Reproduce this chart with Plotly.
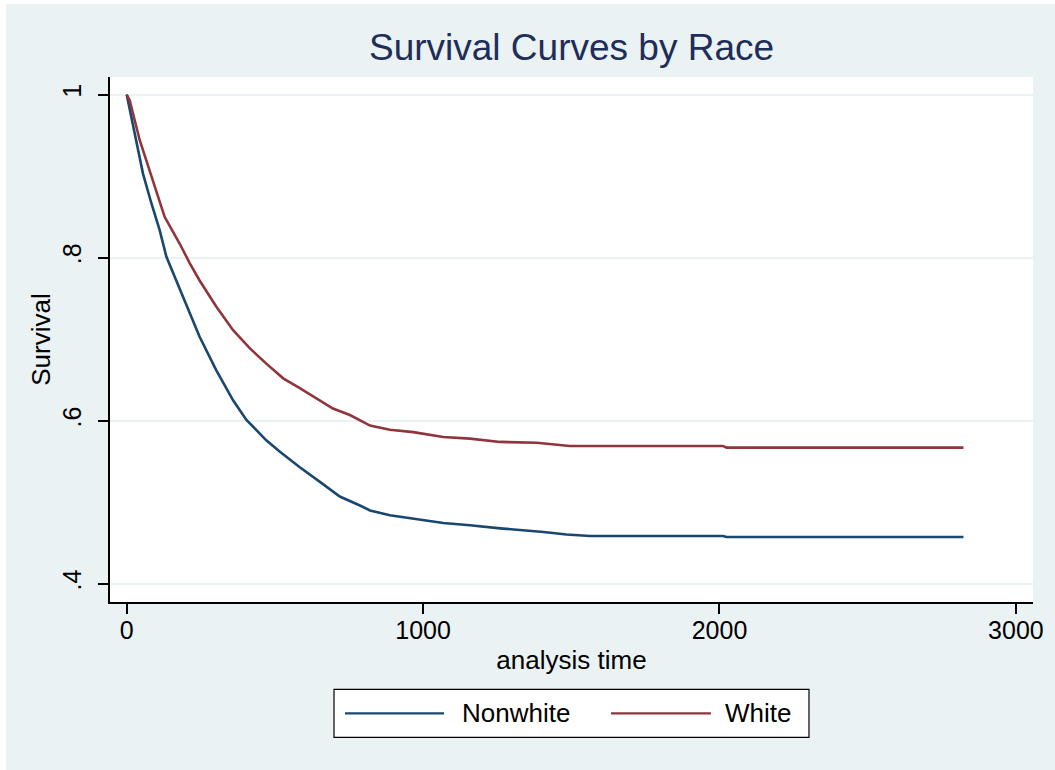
import plotly.graph_objects as go

# Kaplan-Meier survival estimates by group (analysis time in days)
groups = ["Nonwhite", "White"]
colors = ["#1A476F", "#90353B"]

t_nonwhite = [0, 27, 55, 83, 111, 134, 179, 246, 302, 359, 404, 471, 517, 584,
              652, 719, 787, 821, 888, 967, 1068, 1158, 1260, 1406, 1484, 1563,
              2012, 2024, 2823]
s_nonwhite = [1.000, 0.952, 0.903, 0.867, 0.834, 0.801, 0.762, 0.703, 0.662,
              0.625, 0.601, 0.576, 0.562, 0.543, 0.525, 0.507, 0.496, 0.490,
              0.484, 0.480, 0.4746, 0.4718, 0.468, 0.4636, 0.4604, 0.4587,
              0.4587, 0.4574, 0.4574]

t_white = [0, 10, 44, 78, 128, 179, 213, 246, 302, 359, 415, 471, 528, 584,
           640, 696, 753, 787, 821, 888, 967, 1068, 1158, 1260, 1383, 1495,
           2012, 2024, 2823]
s_white = [1.000, 0.993, 0.944, 0.907, 0.850, 0.817, 0.793, 0.772, 0.740,
           0.711, 0.689, 0.670, 0.652, 0.640, 0.627, 0.615, 0.607, 0.601,
           0.594, 0.589, 0.586, 0.580, 0.578, 0.574, 0.573, 0.569, 0.569,
           0.567, 0.567]

x_ticks = [0, 1000, 2000, 3000]
x_ticklabels = ["0", "1000", "2000", "3000"]
y_ticks = [0.4, 0.6, 0.8, 1.0]
y_ticklabels = [".4", ".6", ".8", "1"]

FONT = "Arial, Liberation Sans, sans-serif"
BG = "#EAF2F3"

fig = go.Figure()
for name, color, t, s in [(groups[0], colors[0], t_nonwhite, s_nonwhite),
                          (groups[1], colors[1], t_white, s_white)]:
    fig.add_trace(go.Scatter(x=t, y=s, mode="lines", name=name,
                             line=dict(color=color, width=2.6),
                             showlegend=False))

fig.update_layout(
    width=1055, height=770,
    margin=dict(l=110, r=22, t=77, b=168),
    paper_bgcolor=BG, plot_bgcolor="white",
    font=dict(family=FONT, color="black"),
    title=dict(text="Survival Curves by Race", x=0.5, xref="paper",
               y=1 - 47 / 770, yanchor="middle", xanchor="center",
               font=dict(size=37, color="#1E2D5A", family=FONT)),
    xaxis=dict(range=[-56.3, 3057.7], tickvals=x_ticks, ticktext=x_ticklabels,
               showgrid=False, zeroline=False,
               showline=True, linecolor="black", linewidth=1.5,
               ticks="outside", ticklen=10, tickwidth=1.5, tickcolor="black",
               tickfont=dict(size=25), ticklabelstandoff=-5,
               title=dict(text="analysis time", font=dict(size=26), standoff=8)),
    yaxis=dict(range=[0.3777, 1.0215], tickvals=y_ticks, ticktext=y_ticklabels,
               tickangle=-90,
               showgrid=True, gridcolor=BG, gridwidth=2, zeroline=False,
               showline=True, linecolor="black", linewidth=1.5,
               ticks="outside", ticklen=10, tickwidth=1.5, tickcolor="black",
               tickfont=dict(size=25), ticklabelstandoff=7,
               title=dict(text="Survival", font=dict(size=26), standoff=0)),
)

# white edge strips around the outer graph region
shapes = [
    dict(type="rect", xref="paper", yref="paper", x0=-0.1192, x1=-0.1127,
         y0=-0.33, y1=1.15, fillcolor="white", line=dict(width=0), layer="above"),
    dict(type="rect", xref="paper", yref="paper", x0=-0.1192, x1=1.03,
         y0=1.1391, y1=1.15, fillcolor="white", line=dict(width=0), layer="above"),
]

# legend box below the plot
shapes.append(dict(type="rect", xref="paper", yref="paper",
                   x0=0.2427, x1=0.7573, y0=-0.2579, y1=-0.1664,
                   fillcolor="white", line=dict(color="black", width=1.2),
                   layer="above"))
annotations = []
legend_slots = [(0.2546, 0.3619, 0.3792), (0.5428, 0.6511, 0.6642)]
for (lx0, lx1, tx), name, color in zip(legend_slots, groups, colors):
    shapes.append(dict(type="line", xref="paper", yref="paper",
                       x0=lx0, x1=lx1, y0=-0.2121, y1=-0.2121,
                       line=dict(color=color, width=2.2), layer="above"))
    annotations.append(dict(text=name, xref="paper", yref="paper",
                            x=tx, y=-0.2121, xanchor="left", yanchor="middle",
                            showarrow=False, font=dict(size=26, color="black")))

fig.update_layout(shapes=shapes, annotations=annotations)
fig.write_html("out.html")
